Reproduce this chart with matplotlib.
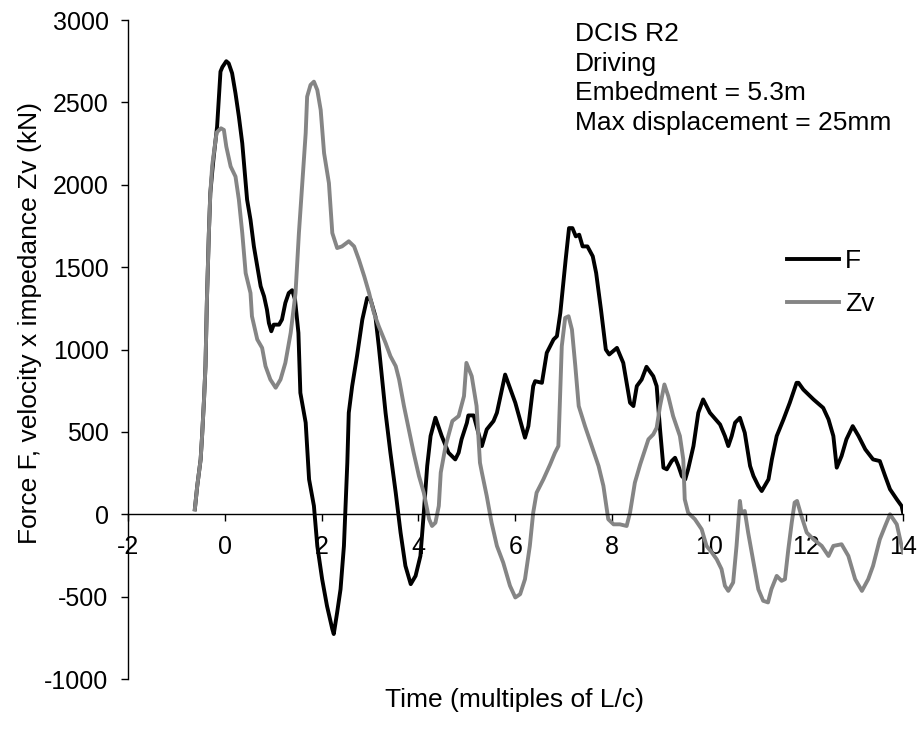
import numpy as np
import matplotlib
matplotlib.use("Agg")
import matplotlib.pyplot as plt

plt.rcParams['font.family'] = ['Liberation Sans', 'DejaVu Sans']
plt.rcParams['axes.unicode_minus'] = False

# force F (kN) against time in multiples of L/c
t_f = [-0.62, -0.57, -0.50, -0.47, -0.43, -0.40, -0.37, -0.33, -0.30, -0.26,
       -0.23, -0.16, -0.09, -0.05, 0.03, 0.08, 0.15, 0.22, 0.29, 0.36,
       0.43, 0.46, 0.53, 0.60, 0.67, 0.74, 0.81, 0.87, 0.91, 0.96,
       1.01, 1.12, 1.18, 1.25, 1.32, 1.39, 1.45, 1.52, 1.56, 1.67,
       1.74, 1.84, 1.91, 2.01, 2.11, 2.22, 2.25, 2.32, 2.39, 2.46,
       2.53, 2.56, 2.63, 2.73, 2.84, 2.94, 3.01, 3.11, 3.18, 3.25,
       3.32, 3.42, 3.53, 3.63, 3.73, 3.84, 3.94, 4.04, 4.11, 4.18,
       4.25, 4.35, 4.48, 4.62, 4.76, 4.83, 4.89, 5.00, 5.03, 5.14,
       5.20, 5.31, 5.41, 5.55, 5.62, 5.79, 6.00, 6.20, 6.27, 6.37,
       6.41, 6.55, 6.65, 6.79, 6.86, 6.93, 7.04, 7.11, 7.18, 7.25,
       7.32, 7.39, 7.49, 7.60, 7.67, 7.77, 7.87, 7.94, 8.10, 8.23,
       8.37, 8.44, 8.51, 8.61, 8.71, 8.85, 8.92, 8.99, 9.06, 9.13,
       9.23, 9.30, 9.37, 9.44, 9.51, 9.57, 9.68, 9.78, 9.88, 9.95,
       10.02, 10.23, 10.33, 10.40, 10.47, 10.54, 10.64, 10.74, 10.85, 10.92,
       11.02, 11.09, 11.23, 11.30, 11.40, 11.54, 11.67, 11.81, 11.85, 11.95,
       12.16, 12.36, 12.47, 12.57, 12.64, 12.74, 12.84, 12.97, 13.09, 13.23,
       13.39, 13.53, 13.64, 13.74, 13.88, 13.98, 14.01]
force = [30, 172, 333, 475, 697, 899, 1303, 1707, 1949, 2080,
         2170, 2353, 2687, 2715, 2750, 2737, 2677, 2555, 2414, 2252,
         2010, 1909, 1788, 1626, 1505, 1384, 1323, 1242, 1161, 1111,
         1151, 1151, 1182, 1283, 1343, 1360, 1303, 1101, 737, 556,
         212, 51, -192, -394, -556, -697, -727, -596, -455, -192,
         313, 616, 778, 960, 1182, 1313, 1303, 1202, 1020, 818,
         616, 374, 131, -111, -313, -424, -374, -253, 10, 293,
         475, 586, 475, 374, 333, 374, 455, 555, 600, 600,
         535, 414, 515, 566, 616, 848, 677, 465, 535, 778,
         808, 798, 980, 1061, 1081, 1222, 1545, 1737, 1737, 1687,
         1697, 1626, 1626, 1566, 1465, 1242, 1000, 970, 1010, 919,
         677, 657, 778, 818, 895, 838, 778, 515, 283, 273,
         323, 343, 293, 232, 212, 273, 414, 616, 697, 657,
         616, 545, 475, 414, 475, 556, 586, 495, 293, 232,
         172, 141, 212, 333, 475, 576, 677, 798, 798, 757,
         697, 646, 576, 475, 283, 354, 455, 535, 475, 394,
         333, 323, 232, 152, 91, 50, 10]

# velocity x impedance Zv (kN)
t_zv = [-0.62, -0.57, -0.50, -0.47, -0.43, -0.40, -0.37, -0.33, -0.30, -0.26,
        -0.17, -0.08, -0.02, 0.03, 0.12, 0.22, 0.29, 0.36, 0.43, 0.53,
        0.56, 0.67, 0.77, 0.84, 0.94, 1.05, 1.15, 1.25, 1.36, 1.46,
        1.53, 1.60, 1.67, 1.70, 1.77, 1.84, 1.91, 1.98, 2.05, 2.15,
        2.22, 2.32, 2.42, 2.56, 2.67, 2.77, 2.88, 2.98, 3.08, 3.18,
        3.32, 3.42, 3.53, 3.60, 3.70, 3.80, 3.90, 4.01, 4.11, 4.22,
        4.28, 4.35, 4.42, 4.46, 4.56, 4.70, 4.83, 4.94, 4.99, 5.10,
        5.20, 5.27, 5.31, 5.41, 5.51, 5.62, 5.75, 5.89, 6.00, 6.10,
        6.20, 6.30, 6.37, 6.44, 6.58, 6.72, 6.82, 6.89, 6.96, 7.03,
        7.10, 7.17, 7.24, 7.31, 7.44, 7.58, 7.72, 7.82, 7.92, 8.03,
        8.16, 8.30, 8.37, 8.47, 8.58, 8.75, 8.85, 8.92, 8.99, 9.08,
        9.16, 9.26, 9.40, 9.47, 9.50, 9.57, 9.71, 9.85, 9.95, 10.06,
        10.16, 10.26, 10.33, 10.40, 10.50, 10.57, 10.64, 10.67, 10.74, 10.81,
        10.92, 11.02, 11.12, 11.22, 11.29, 11.40, 11.50, 11.57, 11.64, 11.71,
        11.77, 11.82, 11.91, 12.02, 12.16, 12.33, 12.47, 12.57, 12.74, 12.88,
        13.02, 13.16, 13.29, 13.39, 13.53, 13.64, 13.74, 13.88, 14.01]
zv = [30, 172, 333, 475, 697, 899, 1303, 1707, 1949, 2120,
      2317, 2343, 2333, 2232, 2111, 2050, 1909, 1707, 1464, 1343,
      1202, 1061, 1010, 899, 818, 768, 818, 919, 1101, 1343,
      1707, 2010, 2313, 2535, 2606, 2626, 2575, 2454, 2192, 2010,
      1707, 1616, 1626, 1657, 1626, 1545, 1444, 1343, 1222, 1141,
      1040, 960, 899, 818, 657, 515, 374, 232, 131, -30,
      -71, -51, 51, 253, 414, 566, 596, 717, 919, 838,
      657, 313, 253, 111, -51, -192, -293, -434, -505, -485,
      -394, -192, 10, 131, 212, 303, 374, 414, 1020, 1192,
      1202, 1121, 899, 657, 535, 414, 293, 172, -30, -61,
      -61, -71, 10, 192, 303, 455, 485, 525, 657, 788,
      717, 596, 475, 333, 91, 10, -30, -91, -192, -232,
      -273, -333, -434, -465, -414, -192, 81, 10, 20, -111,
      -293, -455, -525, -535, -455, -374, -404, -394, -212, -51,
      71, 81, -10, -111, -152, -192, -253, -192, -182, -253,
      -394, -465, -394, -313, -152, -71, 0, -61, -232]

x_ticks = [-2, 0, 2, 4, 6, 8, 10, 12, 14]
y_ticks = [-1000, -500, 0, 500, 1000, 1500, 2000, 2500, 3000]
info = "DCIS R2\nDriving\nEmbedment = 5.3m\nMax displacement = 25mm"

fig = plt.figure(figsize=(9.21, 7.31), dpi=100)
ax = fig.add_axes([0.139, 0.0711, 0.841, 0.9015])

ax.plot(t_f, force, color='black', lw=2.8, label='F', solid_joinstyle='round')
ax.plot(t_zv, zv, color='#858585', lw=2.8, label='Zv', solid_joinstyle='round')

ax.set_xlim(-2, 14)
ax.set_ylim(-1000, 3000)
ax.set_xticks(x_ticks)
ax.set_yticks(y_ticks)

# x axis runs through zero, no box round the plot
ax.spines['bottom'].set_position(('data', 0))
ax.spines['top'].set_visible(False)
ax.spines['right'].set_visible(False)
for s in ('bottom', 'left'):
    ax.spines[s].set_linewidth(1.0)
    ax.spines[s].set_color('black')
ax.tick_params(axis='both', direction='out', length=5, width=1.0, labelsize=18)
ax.tick_params(axis='x', pad=10)
ax.tick_params(axis='y', pad=9)

fig.text(514 / 921, 1 - 700 / 731, 'Time (multiples of L/c)', fontsize=19,
         ha='center', va='center')
fig.text(30 / 921, 1 - 323 / 731, 'Force F, velocity x impedance Zv (kN)',
         fontsize=19, rotation=90, ha='center', va='center')

fig.text(575 / 921, 1 - 22 / 731, info, fontsize=19, ha='left', va='top',
         linespacing=1.3)

ax.legend(loc='center left', bbox_to_anchor=(774 / 921, 1 - 282.5 / 731),
          bbox_transform=fig.transFigure, frameon=False, fontsize=19,
          borderpad=0, handlelength=1.95, handletextpad=0.25, labelspacing=0.7)

fig.savefig('out.png', dpi=100)
